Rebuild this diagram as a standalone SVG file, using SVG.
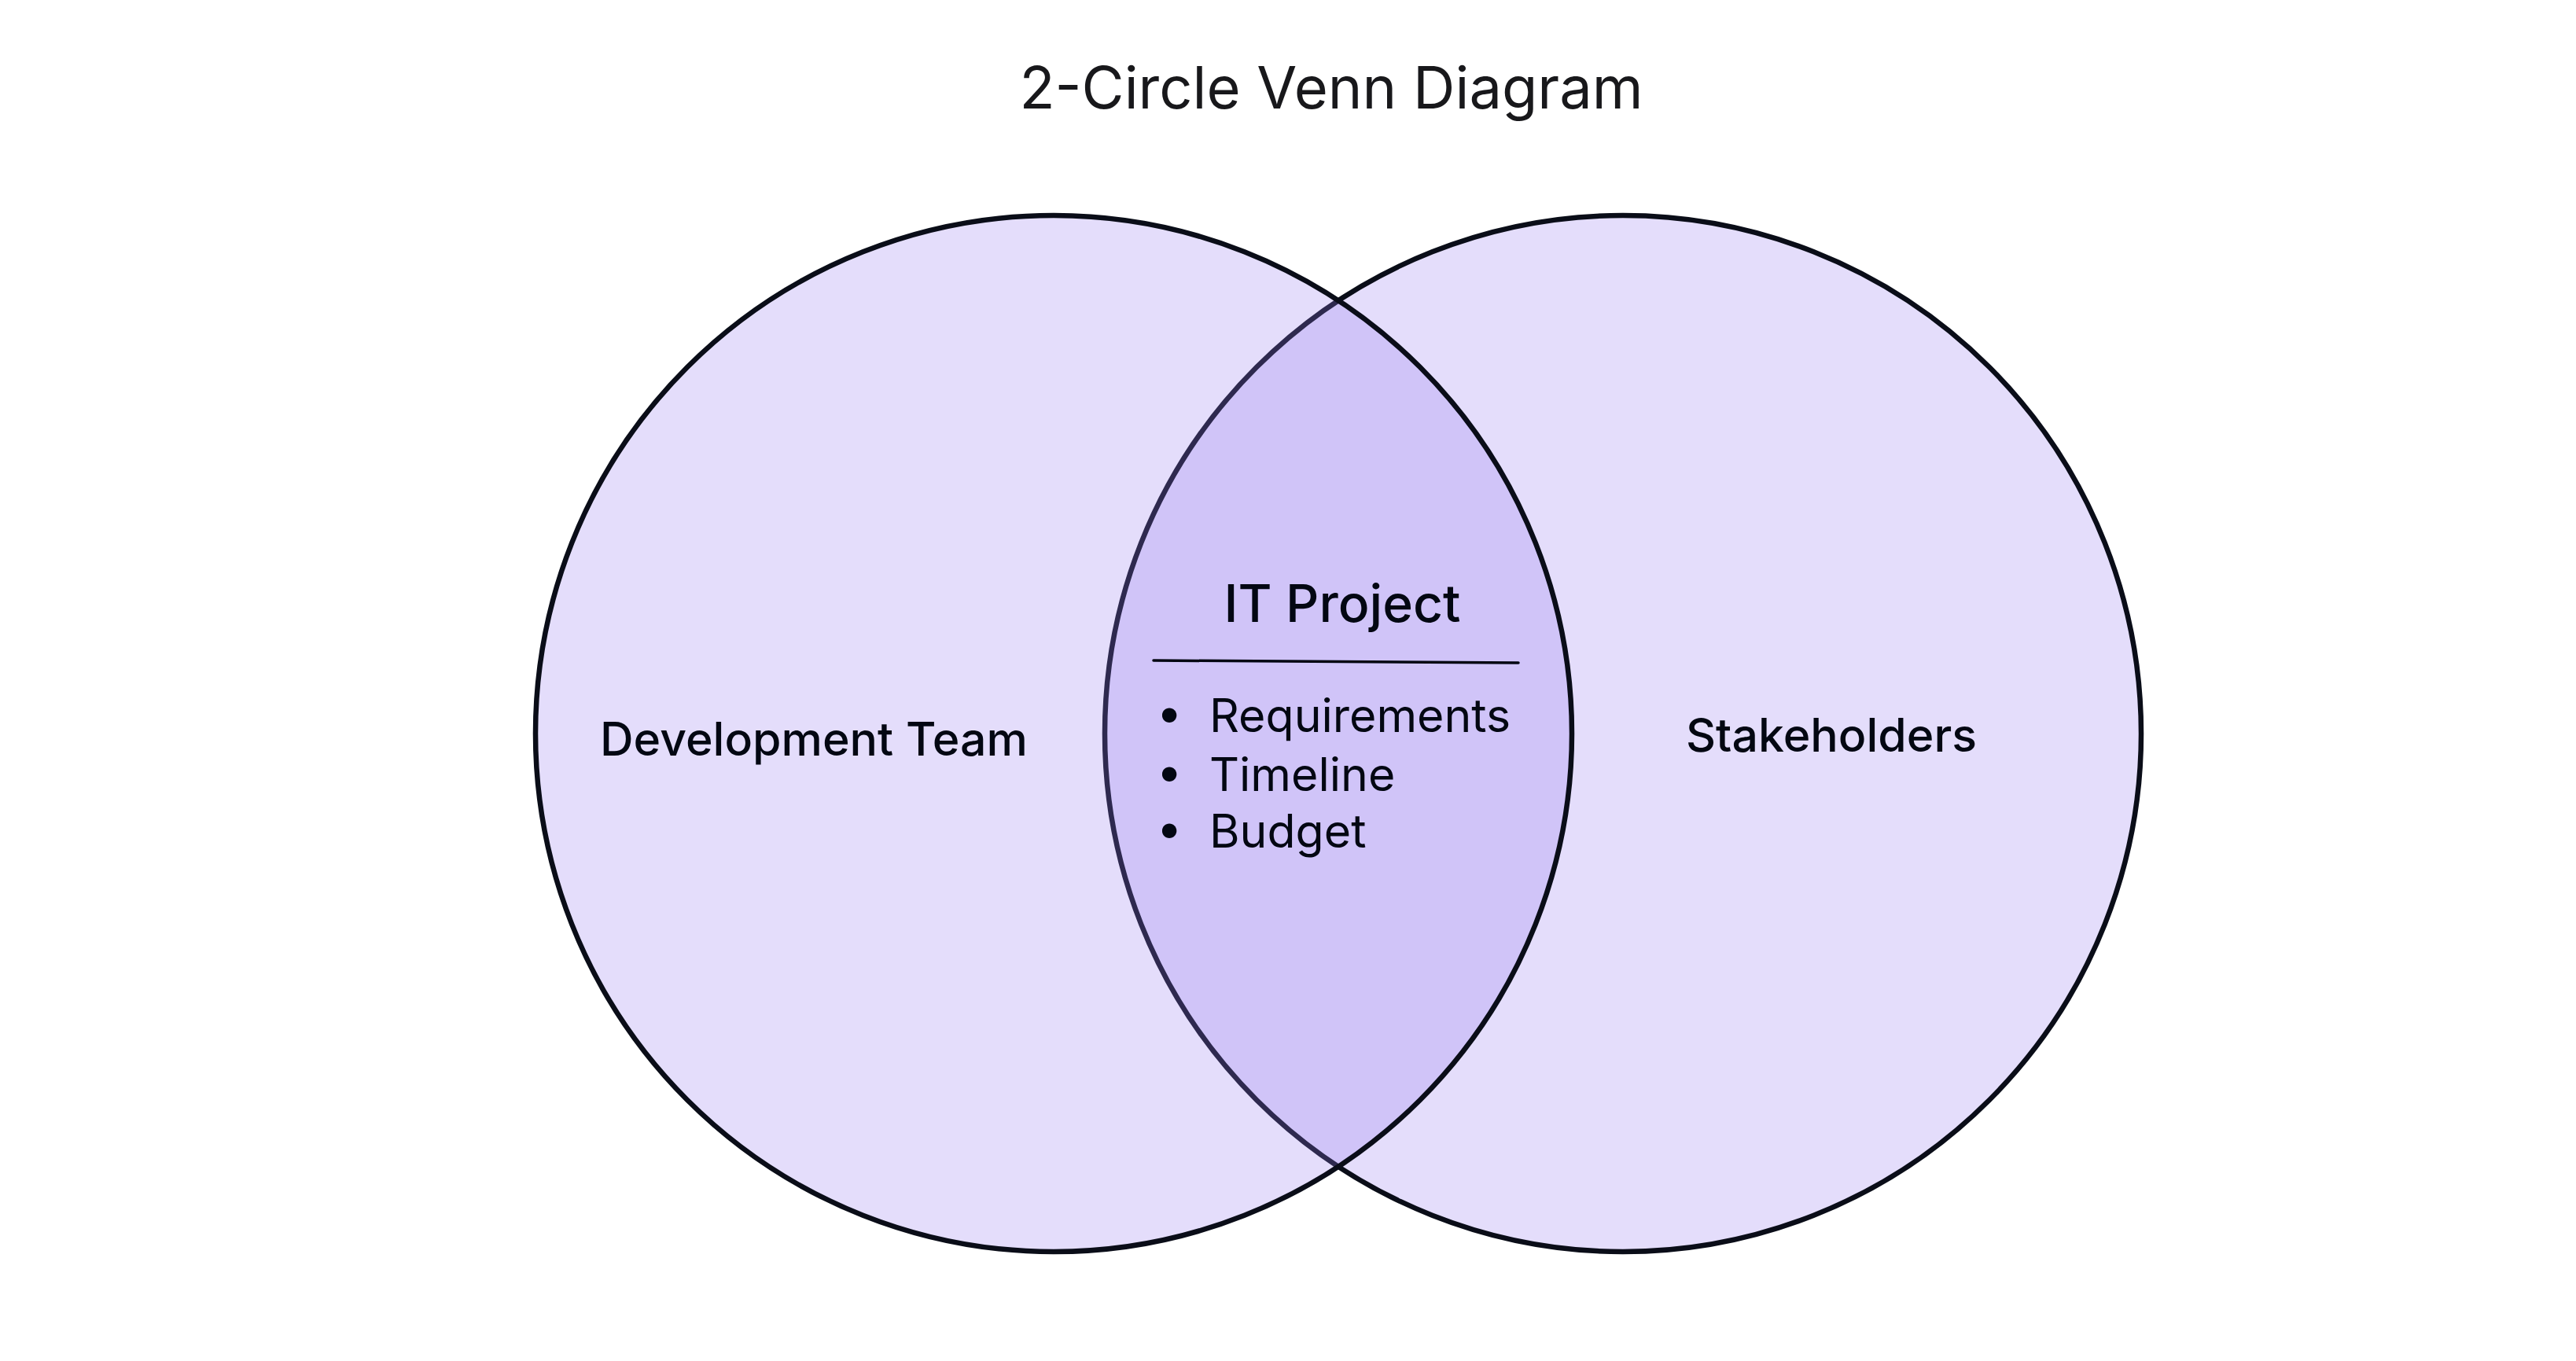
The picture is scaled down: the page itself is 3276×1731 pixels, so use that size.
<svg xmlns="http://www.w3.org/2000/svg" width="3276" height="1731" viewBox="0 0 3276 1731">
  <style>
    .set { fill: rgb(151,123,239); fill-opacity: 0.26; stroke: #0a0d18; stroke-width: 6.5; }
    .lbl { font-family: Inter, "Liberation Sans", sans-serif; fill: #030712; }
    .title { font-family: Inter, "Liberation Sans", sans-serif; fill: #18181b; font-size: 74px; font-weight: 400; }
    .setlbl { font-size: 59px; font-weight: 500; }
    .head { font-size: 66px; font-weight: 500; }
    .item { font-size: 59px; font-weight: 400; }
  </style>
  <defs>
    <clipPath id="bulletClip">
      <rect x="1478" y="860" width="60" height="240"/>
    </clipPath>
  </defs>
  <rect x="0" y="0" width="3276" height="1731" fill="#ffffff"/>
  <g id="title">
    <text class="title" x="1693" y="138" text-anchor="middle">2-Circle Venn Diagram</text>
  </g>
  <g id="set-stakeholders">
    <circle class="set" cx="2064" cy="933" r="659"/>
    <text class="lbl setlbl" x="2329" y="956" text-anchor="middle">Stakeholders</text>
  </g>
  <g id="set-development-team">
    <circle class="set" cx="1340" cy="933" r="659"/>
    <text class="lbl setlbl" x="1035" y="961" text-anchor="middle">Development Team</text>
  </g>
  <g id="intersection-it-project">
    <text class="lbl head" x="1707" y="791" text-anchor="middle">IT Project</text>
    <line x1="1467" y1="840" x2="1931" y2="843" stroke="#030712" stroke-width="3.5" stroke-linecap="round"/>
    <g clip-path="url(#bulletClip)">
      <text class="lbl item" x="1487" y="927" text-anchor="middle">•</text>
      <text class="lbl item" x="1487" y="1002" text-anchor="middle">•</text>
      <text class="lbl item" x="1487" y="1074" text-anchor="middle">•</text>
    </g>
    <text class="lbl item" x="1538" y="931">Requirements</text>
    <text class="lbl item" x="1538" y="1006">Timeline</text>
    <text class="lbl item" x="1538" y="1078">Budget</text>
  </g>
</svg>
